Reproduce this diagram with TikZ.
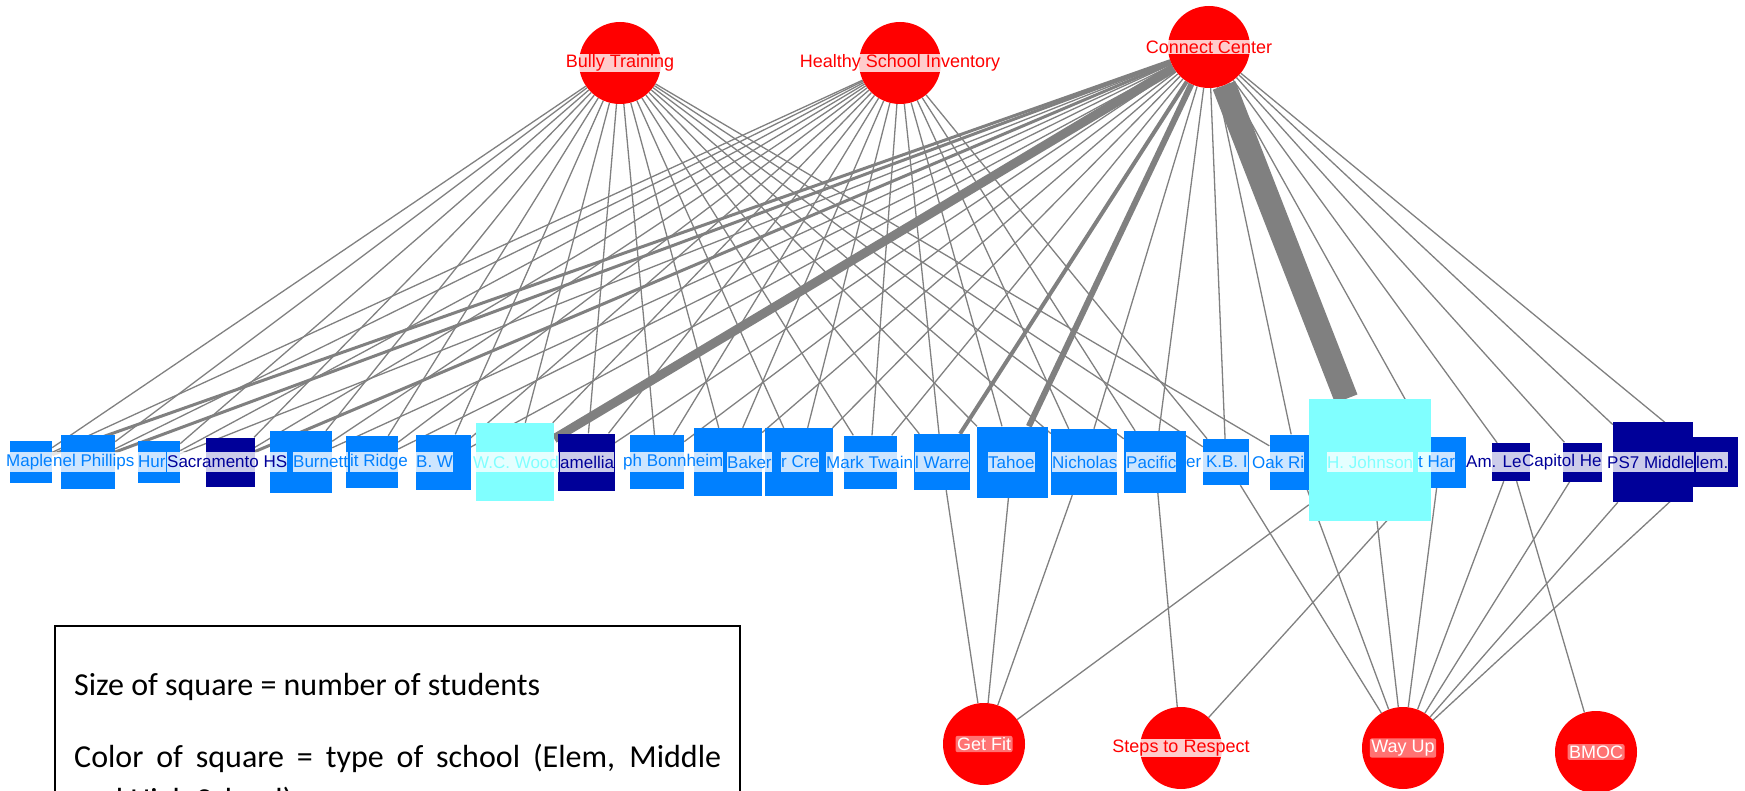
\documentclass[tikz,border=0pt]{standalone}
\usepackage{fontspec}
\setmainfont{Liberation Sans}
\newfontfamily\notefont{Carlito}
\usepackage{tikz}
\usetikzlibrary{backgrounds}
\definecolor{elemblue}{HTML}{0080FF}
\definecolor{midnavy}{HTML}{000099}
\definecolor{highcyan}{HTML}{80FFFF}
\definecolor{linkgray}{HTML}{808080}
\definecolor{progred}{HTML}{FF0000}

\begin{document}
\begin{tikzpicture}[x=1pt, y=-1pt,
  school/.style={rectangle, fill=#1, inner sep=0pt},
  tag/.style={fill=white, fill opacity=0.8, text opacity=1, text=#1, inner sep=0pt,
    minimum height=20pt, anchor=west, font=\fontsize{17}{20}\selectfont},
  prog/.style={circle, fill=progred, minimum size=82pt, inner sep=0pt},
  progtag/.style={fill=white, fill opacity=0.8, text opacity=1, text=progred,
    inner sep=1pt, font=\fontsize{18}{20}\selectfont},
  picktag/.style={fill=white, fill opacity=0.45, text opacity=1, text=white,
    rounded corners=2pt, inner sep=1.5pt, font=\fontsize{18}{20}\selectfont},
  note/.style={anchor=base west, inner sep=0pt, font=\notefont\fontsize{32}{40}\selectfont},
  link/.style={draw=linkgray, line width=1.3pt}]
\useasboundingbox (0,0) rectangle (1745,791);
\clip (0,0) rectangle (1745,791);

% programs
\node[prog] (bully) at (620,63) {};
\node[prog] (healthy) at (900,63) {};
\node[prog] (connect) at (1209,47) {};
\node[prog] (getfit) at (984,744) {};
\node[prog] (steps) at (1181,748) {};
\node[prog] (wayup) at (1403,748) {};
\node[prog] (bmoc) at (1596,752) {};

% schools, size = students, colour = type
\node[school=elemblue, minimum size=42pt] (maple) at (31,462) {};
\node[school=elemblue, minimum size=54pt] (phillips) at (88,462) {};
\node[school=elemblue, minimum size=42pt] (hur) at (159,462) {};
\node[school=midnavy, minimum size=49pt] (sachs) at (230,462) {};
\node[school=elemblue, minimum size=62pt] (burnett) at (301,462) {};
\node[school=elemblue, minimum size=52pt] (ridge) at (372,462) {};
\node[school=elemblue, minimum size=55pt] (bw) at (443,462) {};
\node[school=highcyan, minimum size=78pt] (wcwood) at (515,462) {};
\node[school=midnavy, minimum size=57pt] (camellia) at (586,462) {};
\node[school=elemblue, minimum size=54pt] (bonnheim) at (657,462) {};
\node[school=elemblue, minimum size=68pt] (baker) at (728,462) {};
\node[school=elemblue, minimum size=68pt] (creek) at (799,462) {};
\node[school=elemblue, minimum size=53pt] (twain) at (870,462) {};
\node[school=elemblue, minimum size=56pt] (warren) at (942,462) {};
\node[school=elemblue, minimum size=71pt] (tahoe) at (1012,462) {};
\node[school=elemblue, minimum size=66pt] (nicholas) at (1084,462) {};
\node[school=elemblue, minimum size=62pt] (pacific) at (1155,462) {};
\node[school=elemblue, minimum size=46pt] (kb) at (1226,462) {};
\node[school=elemblue, minimum size=55pt] (oakridge) at (1297,462) {};
\node[school=elemblue, minimum size=51pt] (harte) at (1440,462) {};
\node[school=highcyan, minimum size=122pt] (johnson) at (1370,460) {};
\node[school=midnavy, minimum size=38pt] (amle) at (1511,462) {};
\node[school=midnavy, minimum size=39pt] (capitol) at (1582,462) {};
\node[school=midnavy, minimum size=80pt] (pssev) at (1653,462) {};
\node[school=midnavy, minimum size=50pt] (elem) at (1713,462) {};

% links
\begin{scope}[on background layer]
  \foreach \s in {maple,phillips,hur,sachs,burnett,ridge,bw,wcwood,camellia,
      bonnheim,baker,creek,twain,warren,tahoe,nicholas,pacific,kb,oakridge}
    \draw[link] (bully) -- (\s);
  \foreach \s in {maple,phillips,hur,sachs,burnett,ridge,bw,wcwood,camellia,
      bonnheim,baker,creek,twain,warren,tahoe,nicholas,pacific,kb}
    \draw[link] (healthy) -- (\s);
  \foreach \s/\w in {maple/3,phillips/3,hur/1.3,sachs/3,burnett/1.3,ridge/1.3,
      bw/1.3,wcwood/9,camellia/1.3,bonnheim/1.3,baker/1.3,creek/1.3,twain/1.3,
      warren/4,tahoe/6,nicholas/1.3,pacific/1.3,kb/1.3,oakridge/1.3,johnson/24,
      harte/1.3,amle/1.3,capitol/1.3,pssev/1.3,elem/1.3}
    \draw[link, line width=\w pt] (connect) -- (\s);
  \foreach \s in {warren,tahoe,nicholas,johnson}
    \draw[link] (getfit) -- (\s);
  \foreach \s in {pacific,harte}
    \draw[link] (steps) -- (\s);
  \foreach \s in {kb,oakridge,johnson,harte,amle,capitol,pssev,elem}
    \draw[link] (wayup) -- (\s);
  \draw[link] (bmoc) -- (amle);
\end{scope}

% school labels as they show
\node[tag=elemblue] (mapleL) at (6,462) {Maple};
\node[tag=elemblue] (phillipsL) at (53,462) {nel Phillips};
\node[tag=elemblue] (hurL) at (138,462) {Hur};
\node[tag=midnavy] (sachsL) at (167,462) {Sacramento HS};
\node[tag=elemblue] (burnettL) at (293,462) {Burnett};
\node[tag=elemblue] (ridgeL) at (350,462) {it Ridge};
\node[tag=elemblue] (bwL) at (416,462) {B. W};
\node[tag=highcyan] (wcwoodL) at (473,462) {W.C. Wood};
\node[tag=midnavy] (camelliaL) at (560,462) {amellia};
\node[tag=elemblue] (bonnheimL) at (623,462) {ph Bonnheim};
\node[tag=elemblue] (bakerL) at (727,462) {Baker};
\node[tag=elemblue] (creekL) at (781,462) {r Cre};
\node[tag=elemblue] (twainL) at (826,462) {Mark Twain};
\node[tag=elemblue] (warrenL) at (915,462) {l Warre};
\node[tag=elemblue] (tahoeL) at (988,462) {Tahoe};
\node[tag=elemblue] (nicholasL) at (1052,462) {Nicholas};
\node[tag=elemblue] (pacificL) at (1126,462) {Pacific};
\node[tag=elemblue] (kbL) at (1186,462) {er K.B. I};
\node[tag=elemblue] (oakridgeL) at (1252,462) {Oak Ri};
\node[tag=highcyan] (johnsonL) at (1327,462) {H. Johnson};
\node[tag=elemblue] (harteL) at (1418,462) {t Har};
\node[tag=midnavy] (amleL) at (1466,462) {Am. Le};
\node[tag=midnavy] (capitolL) at (1522,462) {Capitol He};
\node[tag=midnavy] (pssevL) at (1607,462) {PS7 Middle};
\node[tag=midnavy] (elemL) at (1696,462) {lem.};

% program labels
\node[progtag] (bullyL) at (bully) {Bully Training};
\node[progtag] (healthyL) at (healthy) {Healthy School Inventory};
\node[progtag] (connectL) at (connect) {Connect Center};
\node[picktag] (getfitL) at (getfit) {Get Fit};
\node[progtag] (stepsL) at (steps) {Steps to Respect};
\node[picktag] (wayupL) at (wayup) {Way Up};
\node[picktag] (bmocL) at (bmoc) {BMOC};

% legend
\draw[line width=1.5pt] (55,850) |- (740,626) -- (740,850);
\node[note] (note1) at (74,695) {Size of square = number of students};
\node[note] (note2) at (74,767)
  {\makebox[647pt][s]{Color of square = type of school (Elem, Middle}};
\node[note] (note3) at (74,810) {and High School)};
\end{tikzpicture}
\end{document}
